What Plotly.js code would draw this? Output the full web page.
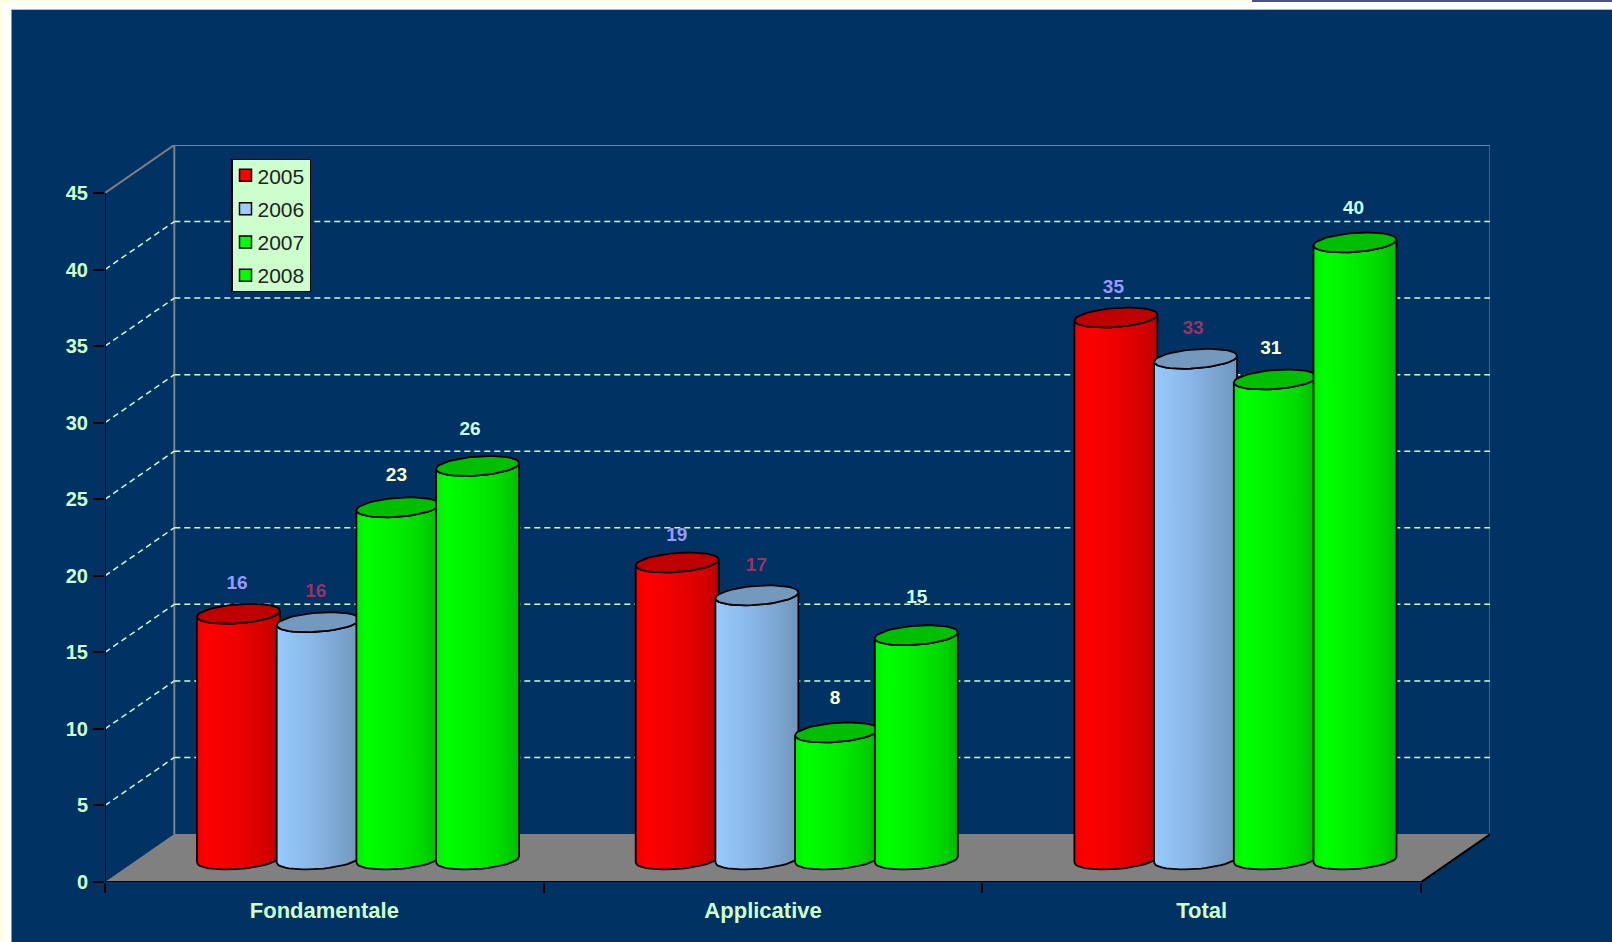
<!DOCTYPE html>
<html><head><meta charset="utf-8">
<script src="https://cdn.plot.ly/plotly-3.0.1.min.js"></script>
<style>
html,body{margin:0;padding:0;background:#ffffff;overflow:hidden}
#cream{position:absolute;left:0;top:0;width:3px;height:942px;background:#ffffe6}
#creamTop{position:absolute;left:0;top:0;width:1252px;height:2px;background:#ffffe6}
#strip{position:absolute;left:1252px;top:0;width:360px;height:2px;background:#4a5088}
#chart{position:absolute;left:11px;top:10px;width:1601px;height:932px}
#edgeL{position:absolute;left:11px;top:10px;width:1px;height:932px;background:#7f99b2;z-index:5}
#edgeT{position:absolute;left:11px;top:9px;width:1601px;height:1px;background:#a9bacb;z-index:5}
</style></head><body>
<div id="cream"></div><div id="creamTop"></div><div id="strip"></div>
<div id="chart"></div><div id="edgeL"></div><div id="edgeT"></div>
<script>
// ---- data ----
const categories = ['Fondamentale', 'Applicative', 'Total'];
const seriesNames = ['2005', '2006', '2007', '2008'];
const heights2005 = [16.05, 19.4, 35.4];
const heights2006 = [15.5, 17.25, 32.7];
const heights2007 = [23.0, 8.3, 31.35];
const heights2008 = [25.7, 14.65, 40.3];
const labels2005 = ['16', '19', '35'];
const labels2006 = ['16', '17', '33'];
const labels2007 = ['23', '8', '31'];
const labels2008 = ['26', '15', '40'];
const yTicks = [0, 5, 10, 15, 20, 25, 30, 35, 40, 45];
const gridValues = [5, 10, 15, 20, 25, 30, 35, 40];

const heights = [heights2005, heights2006, heights2007, heights2008];
const labels = [labels2005, labels2006, labels2007, labels2008];

// ---- styles ----
const NAVY = '#003264', PALE = '#ccffcc';
const labelColors = ['#9999ff', '#993366', '#ffffcc', '#ccffff'];
const topColors = ['#c00000', '#7399bf', '#00bf00', '#00bf00'];
const swatch = ['#ff0000', '#99ccff', '#00ff00', '#00ff00'];
const bands = [
  ['#f00000', '#ff0000', '#f20000', '#e60000', '#d90000', '#c00000'],
  ['#99ccff', '#92c5f5', '#8ab8e8', '#82addc', '#7aa3cd', '#7096bc'],
  ['#00f000', '#00ff00', '#00f200', '#00e600', '#00d900', '#00bc00'],
  ['#00f000', '#00ff00', '#00f200', '#00e600', '#00d900', '#00bc00']
];
const bandStops = [0, 0.12, 0.42, 0.6, 0.78, 1];
function scale(c) { return bandStops.map((s, i) => [s, c[i]]); }
// label placement relative to each cylinder: gap above its lid, sideways shift (px)
const labelGap = [[22, 19, 22], [22, 22, 22], [24, 26, 23], [28, 29, 26]];
const labelShift = [[-1.5, -0.5, -2.5], [-2.5, -0.5, -2.5], [-1.5, -1.5, -4.5], [-7.5, 0.5, -1.5]];

// ---- geometry in axis units (px per unit: 438.7 on x, 15.31 on y) ----
const PX = 438.7, PY = 689 / 45;
const xMax = 1385 / PX, yMax = 737 / PY;
const depthX = 69.3 / PX, depthY = 48 / PY;
const cylW = 83 / PX, cylStep = 79.7 / PX, cylStart = 92 / PX;
const baseLift = 22.5 / PY;
const ea = cylW / 2, eh = 9.5 / PY, es = 3 / PY;

function ell(cx, cy, t) {
  return [cx + ea * Math.cos(t), cy + eh * Math.sin(t) + es * Math.cos(t)];
}
function arc(cx, cy, from, to, n) {
  const xs = [], ys = [];
  for (let i = 0; i <= n; i++) {
    const p = ell(cx, cy, from + (to - from) * i / n);
    xs.push(p[0]); ys.push(p[1]);
  }
  return [xs, ys];
}

const traces = [];
const centers = categories.map((c, i) => i + 0.5);

// real bars, on the shared scale; they carry the legend
seriesNames.forEach((name, k) => {
  traces.push({
    type: 'bar', name: name, legendgroup: name, x: centers, y: heights[k],
    base: baseLift, width: cylW * 0.7,
    offset: cylStart + k * cylStep + cylW * 0.15 - 0.5,
    marker: { color: swatch[k], line: { color: '#000000', width: 1.5 } },
    hoverinfo: 'x+y'
  });
});

// cylinders, later series in front of earlier ones
categories.forEach((cat, i) => {
  seriesNames.forEach((name, k) => {
    const cx = i + cylStart + k * cylStep + cylW / 2;
    const top = baseLift + heights[k][i];
    const low = arc(cx, baseLift, Math.PI, 2 * Math.PI, 24);
    const up = arc(cx, top, 2 * Math.PI, Math.PI, 24);
    traces.push({
      type: 'scatter', mode: 'lines', showlegend: false, hoverinfo: 'skip',
      x: low[0].concat(up[0]).concat([low[0][0]]),
      y: low[1].concat(up[1]).concat([low[1][0]]),
      fill: 'toself',
      fillgradient: { type: 'horizontal', colorscale: scale(bands[k]) },
      line: { color: '#000000', width: 1.8 }
    });
    const lid = arc(cx, top, 0, 2 * Math.PI, 48);
    traces.push({
      type: 'scatter', mode: 'lines', showlegend: false, hoverinfo: 'skip',
      x: lid[0], y: lid[1], fill: 'toself', fillcolor: topColors[k],
      line: { color: '#000000', width: 1.8 }
    });
  });
});

// value labels
seriesNames.forEach((name, k) => {
  traces.push({
    type: 'scatter', mode: 'text', showlegend: false, hoverinfo: 'skip',
    cliponaxis: false,
    x: categories.map((c, i) => i + cylStart + k * cylStep + cylW / 2 + labelShift[k][i] / PX),
    y: categories.map((c, i) => baseLift + heights[k][i] + (7.5 + labelGap[k][i]) / PY),
    text: labels[k], textposition: 'middle center',
    textfont: { family: 'Liberation Sans', size: 19, weight: 700, color: labelColors[k] }
  });
});

// axis lines
traces.push({
  type: 'scatter', mode: 'lines', showlegend: false, hoverinfo: 'skip', cliponaxis: false,
  x: [0, 0, null, 0, 3, depthX + 3],
  y: [0, 45, null, 0, 0, depthY],
  line: { color: '#000000', width: 2 }
});

// walls, floor and dashed grid
const shapes = [];
shapes.push({
  type: 'path', layer: 'below', xref: 'x', yref: 'y',
  path: `M0,0 L${depthX},${depthY} L${3 + depthX},${depthY} L3,0 Z`,
  fillcolor: '#808080', line: { width: 0 }
});
const wall = { color: '#808080', width: 2 };
[[depthX, depthY, depthX, 45 + depthY], [depthX, 45 + depthY, 3 + depthX, 45 + depthY],
 [3 + depthX, depthY, 3 + depthX, 45 + depthY], [0, 45, depthX, 45 + depthY]].forEach(s => {
  shapes.push({ type: 'line', layer: 'below', xref: 'x', yref: 'y', x0: s[0], y0: s[1], x1: s[2], y1: s[3], line: wall });
});
gridValues.forEach(v => {
  const d = { color: PALE, width: 1.5, dash: '6px,4px' };
  shapes.push({ type: 'line', layer: 'below', xref: 'x', yref: 'y', x0: 0, y0: v, x1: depthX, y1: v + depthY, line: d });
  shapes.push({ type: 'line', layer: 'below', xref: 'x', yref: 'y', x0: depthX, y0: v + depthY, x1: 3 + depthX, y1: v + depthY, line: d });
});

const layout = {
  width: 1601, height: 932,
  margin: { l: 94, r: 122, t: 135, b: 60, pad: 0 },
  paper_bgcolor: NAVY, plot_bgcolor: NAVY,
  barmode: 'overlay',
  font: { family: 'Liberation Sans' },
  showlegend: true,
  legend: {
    x: (231 - 105) / 1385, y: 1 - (158.7 - 145) / 737, xanchor: 'left', yanchor: 'top',
    bgcolor: PALE, bordercolor: '#000000', borderwidth: 1.5,
    font: { family: 'Liberation Sans', size: 21, color: '#222222' },
    indentation: -15, tracegroupgap: 3, itemclick: false, itemdoubleclick: false
  },
  xaxis: {
    range: [0, xMax], showgrid: false, zeroline: false, showline: false, fixedrange: true,
    tickmode: 'array', tickvals: centers, ticktext: categories, ticks: '', ticklabelstandoff: 13,
    tickfont: { family: 'Liberation Sans', size: 22, weight: 700, color: PALE },
    minor: { tickmode: 'array', tickvals: [0, 1, 2, 3], ticks: 'outside', ticklen: 10, tickwidth: 2, tickcolor: '#000000', showgrid: false }
  },
  yaxis: {
    range: [0, yMax], showgrid: false, zeroline: false, showline: false, fixedrange: true,
    tickmode: 'array', tickvals: yTicks, ticktext: yTicks.map(String),
    ticks: 'outside', ticklen: 11, tickwidth: 2, tickcolor: '#000000', ticklabelstandoff: 1,
    tickfont: { family: 'Liberation Sans', size: 20, weight: 700, color: PALE }
  },
  shapes: shapes
};
Plotly.newPlot('chart', traces, layout, { displayModeBar: false, responsive: false }).then(() => {
  // tighten the legend box to the reference: swatches further right, less padding
  document.querySelectorAll('.legend .legendsymbols').forEach(g => g.setAttribute('transform', 'translate(8,0)'));
  const box = document.querySelector('.legend .scrollbox');
  if (box) box.setAttribute('transform', 'translate(0,-5)');
  const bg = document.querySelector('.legend .bg');
  if (bg) bg.setAttribute('height', '132');
});
</script>
</body></html>
